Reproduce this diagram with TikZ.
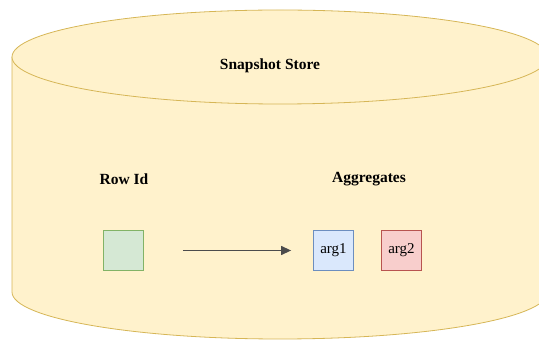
\documentclass[tikz,border=0pt]{standalone}
\usepackage{fontspec}
\setmainfont{Liberation Serif}
\usepackage{tikz}
\usetikzlibrary{arrows.meta,positioning}
\definecolor{storefill}{HTML}{FFF2CC}
\definecolor{storeline}{HTML}{D6B656}
\definecolor{idfill}{HTML}{D5E8D4}
\definecolor{idline}{HTML}{82B366}
\definecolor{argfill}{HTML}{DAE8FC}
\definecolor{argline}{HTML}{6C8EBF}
\definecolor{argbfill}{HTML}{F8CECC}
\definecolor{argbline}{HTML}{B85450}

\begin{document}
\begin{tikzpicture}[x=1pt,y=1pt,
  cell/.style={draw,line width=0.8pt,minimum width=40pt,minimum height=40pt,inner sep=0pt,font=\fontsize{15}{18}\selectfont},
  heading/.style={font=\fontsize{15.5}{18}\selectfont\bfseries}]
\useasboundingbox (0,0) rectangle (539,340);
\clip (0,0) rectangle (539,340);
% store
\fill[storefill] (12,283) -- (12,48) arc[start angle=180,end angle=360,x radius=268pt,y radius=47pt] -- (548,283) -- cycle;
\draw[storeline,line width=0.8pt] (12,283) -- (12,48) arc[start angle=180,end angle=360,x radius=268pt,y radius=47pt] -- (548,283);
\draw[storeline,fill=storefill,line width=0.8pt] (280,283) ellipse[x radius=268pt,y radius=47pt];
\node[heading] (store) at (270,274) {Snapshot Store};
% columns
\node[heading] (rowid) at (124,161) {Row Id};
\node[heading] (aggr) at (369,161) {Aggregates};
\node[cell,fill=idfill,draw=idline] (idcell) at (123.5,89.5) {};
\node[cell,fill=argfill,draw=argline] (arg1) at (333.5,89.5) {arg1};
\node[cell,fill=argbfill,draw=argbline] (arg2) at (401.5,89.5) {arg2};
\draw[-{Triangle[length=10pt,width=9pt]},line width=1.3pt,black!70,shorten <=39pt,shorten >=22pt] (idcell) -- (arg1);
\end{tikzpicture}
\end{document}
